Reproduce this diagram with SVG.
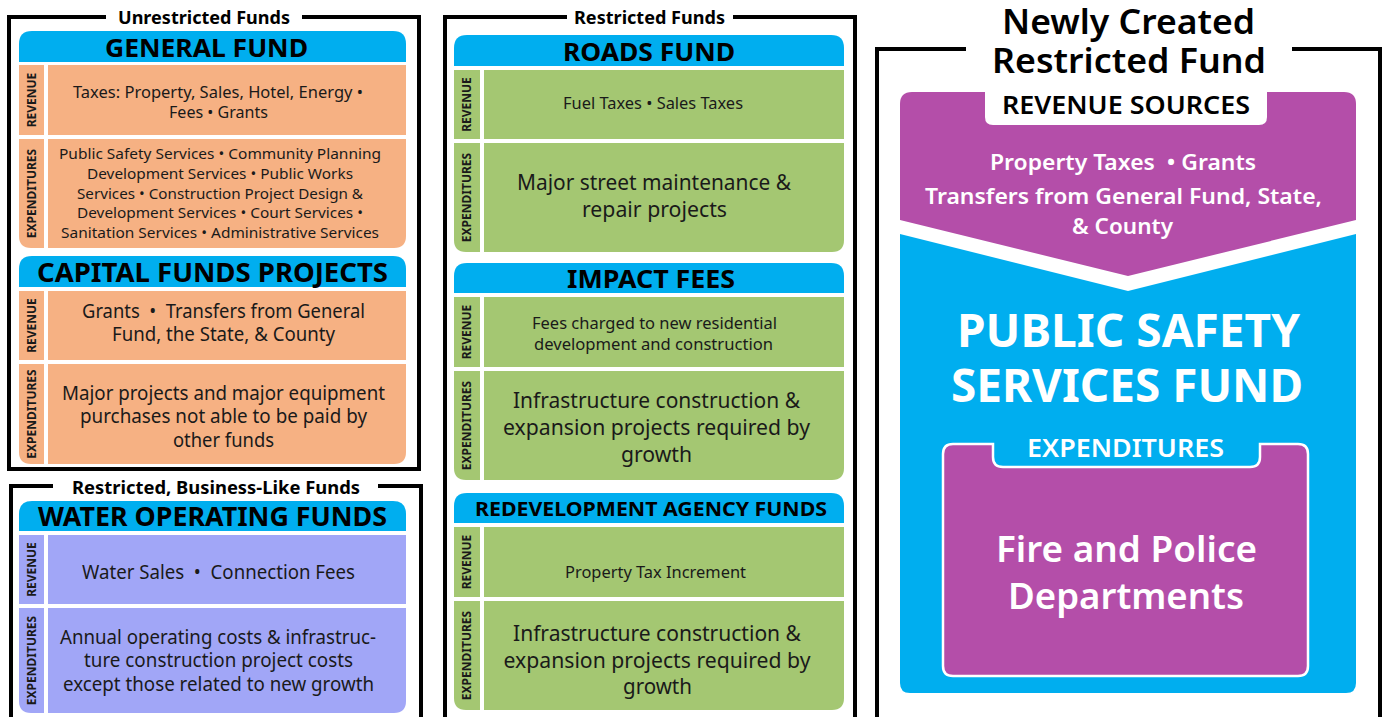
<svg xmlns="http://www.w3.org/2000/svg" width="1388" height="717" viewBox="0 0 1388 717">
<style>
text{font-family:"Noto Sans","Open Sans","DejaVu Sans",sans-serif;fill:#1a1a1a}
.frame{fill:none;stroke:#000;stroke-width:4}
.ft{font-size:17px;font-weight:700;text-anchor:middle;fill:#000}
.hdr{fill:#00aeef}
.or{fill:#f6b183}
.gr{fill:#a4c772}
.pu{fill:#a1a6f7}
.h{font-weight:700;text-anchor:middle;fill:#000}
.side{font-size:12px;font-weight:700;text-anchor:middle}
.b{text-anchor:middle}
.w{fill:#fff;text-anchor:middle}
</style>
<g id="frames">
<path class="frame" d="M106,17 H9 V469 H419 V17 H302"/>
<path class="frame" d="M53,486 H11 V722 M421,722 V486 H378"/>
<path class="frame" d="M567,17 H445 V722 M855,722 V17 H733"/>
<path class="frame" d="M966,49 H877 V722 M1380,722 V49 H1292"/>
<text class="ft" x="204" y="23.5" textLength="172" lengthAdjust="spacingAndGlyphs">Unrestricted Funds</text>
<text class="ft" x="649.5" y="24" textLength="151" lengthAdjust="spacingAndGlyphs">Restricted Funds</text>
<text class="ft" x="216" y="494" textLength="288" lengthAdjust="spacingAndGlyphs">Restricted, Business-Like Funds</text>
<text class="h" x="1128.5" y="33.5" style="font-size:35px;font-weight:600" textLength="253" lengthAdjust="spacingAndGlyphs">Newly Created</text>
<text class="h" x="1129" y="73.3" style="font-size:35px;font-weight:600" textLength="274" lengthAdjust="spacingAndGlyphs">Restricted Fund</text>
</g>
<g id="general-fund">
<path class="hdr" d="M19,62 V44 Q19,31 32,31 H393 Q406,31 406,44 V62 Z"/>
<rect class="or" x="19" y="65" width="25" height="70"/>
<rect class="or" x="48" y="65" width="358" height="70"/>
<path class="or" d="M19,139 H44 V248 H31 Q19,248 19,236 Z"/>
<path class="or" d="M48,139 H406 V236 Q406,248 394,248 H48 Z"/>
<text class="h" x="206.5" y="56.5" font-size="25" textLength="203" lengthAdjust="spacingAndGlyphs">GENERAL FUND</text>
<text class="side" transform="translate(32,100) rotate(-90)" dy="4.3">REVENUE</text>
<text class="side" transform="translate(32,193.5) rotate(-90)" dy="4.3">EXPENDITURES</text>
<text class="b" font-size="15.5" x="218" y="98.3" textLength="290" lengthAdjust="spacingAndGlyphs">Taxes: Property, Sales, Hotel, Energy •</text>
<text class="b" font-size="15.5" x="218.5" y="118.3" textLength="99" lengthAdjust="spacingAndGlyphs">Fees • Grants</text>
<text class="b" font-size="15" x="220" y="159.3" textLength="322" lengthAdjust="spacingAndGlyphs">Public Safety Services • Community Planning</text>
<text class="b" font-size="15" x="220" y="179" textLength="266" lengthAdjust="spacingAndGlyphs">Development Services • Public Works</text>
<text class="b" font-size="15" x="220" y="199" textLength="286" lengthAdjust="spacingAndGlyphs">Services • Construction Project Design &amp;</text>
<text class="b" font-size="15" x="220" y="218.3" textLength="286" lengthAdjust="spacingAndGlyphs">Development Services • Court Services •</text>
<text class="b" font-size="15" x="220" y="237.7" textLength="318" lengthAdjust="spacingAndGlyphs">Sanitation Services • Administrative Services</text>
</g>
<g id="capital-funds-projects">
<path class="hdr" d="M19,287 V269 Q19,256 32,256 H393 Q406,256 406,269 V287 Z"/>
<rect class="or" x="19" y="291" width="25" height="69"/>
<rect class="or" x="48" y="291" width="358" height="69"/>
<path class="or" d="M19,364 H44 V464 H31 Q19,464 19,452 Z"/>
<path class="or" d="M48,364 H406 V452 Q406,464 394,464 H48 Z"/>
<text class="h" x="212.5" y="281.7" font-size="26" textLength="351" lengthAdjust="spacingAndGlyphs">CAPITAL FUNDS PROJECTS</text>
<text class="side" transform="translate(32,325.5) rotate(-90)" dy="4.3">REVENUE</text>
<text class="side" transform="translate(32,414) rotate(-90)" dy="4.3">EXPENDITURES</text>
<text class="b" font-size="19" x="223.5" y="317.7" xml:space="preserve" textLength="283" lengthAdjust="spacingAndGlyphs">Grants  •  Transfers from General</text>
<text class="b" font-size="19" x="223.5" y="340.7" textLength="223" lengthAdjust="spacingAndGlyphs">Fund, the State, &amp; County</text>
<text class="b" font-size="19" x="223.5" y="400" textLength="323" lengthAdjust="spacingAndGlyphs">Major projects and major equipment</text>
<text class="b" font-size="19" x="223.5" y="423.3" textLength="287" lengthAdjust="spacingAndGlyphs">purchases not able to be paid by</text>
<text class="b" font-size="19" x="223.5" y="446.7" textLength="101" lengthAdjust="spacingAndGlyphs">other funds</text>
</g>
<g id="water-operating-funds">
<path class="hdr" d="M19,531 V514 Q19,501 32,501 H393 Q406,501 406,514 V531 Z"/>
<rect class="pu" x="19" y="535" width="25" height="69"/>
<rect class="pu" x="48" y="535" width="358" height="69"/>
<path class="pu" d="M19,608 H44 V713 H31 Q19,713 19,701 Z"/>
<path class="pu" d="M48,608 H406 V701 Q406,713 394,713 H48 Z"/>
<text class="h" x="212.5" y="526" font-size="26" textLength="349" lengthAdjust="spacingAndGlyphs">WATER OPERATING FUNDS</text>
<text class="side" transform="translate(32,569.5) rotate(-90)" dy="4.3">REVENUE</text>
<text class="side" transform="translate(32,660.5) rotate(-90)" dy="4.3">EXPENDITURES</text>
<text class="b" font-size="19" x="218.5" y="579.3" xml:space="preserve" textLength="273" lengthAdjust="spacingAndGlyphs">Water Sales  •  Connection Fees</text>
<text class="b" font-size="19" x="218" y="644" textLength="316" lengthAdjust="spacingAndGlyphs">Annual operating costs &amp; infrastruc-</text>
<text class="b" font-size="19" x="218.5" y="666.7" textLength="269" lengthAdjust="spacingAndGlyphs">ture construction project costs</text>
<text class="b" font-size="19" x="218.5" y="690.7" textLength="311" lengthAdjust="spacingAndGlyphs">except those related to new growth</text>
</g>
<g id="roads-fund">
<path class="hdr" d="M454,66 V48 Q454,35 467,35 H831 Q844,35 844,48 V66 Z"/>
<rect class="gr" x="454" y="70" width="26" height="69"/>
<rect class="gr" x="484" y="70" width="360" height="69"/>
<path class="gr" d="M454,143 H480 V252 H466 Q454,252 454,240 Z"/>
<path class="gr" d="M484,143 H844 V240 Q844,252 832,252 H484 Z"/>
<text class="h" x="649" y="61" font-size="25" textLength="172" lengthAdjust="spacingAndGlyphs">ROADS FUND</text>
<text class="side" transform="translate(467,104.5) rotate(-90)" dy="4.3">REVENUE</text>
<text class="side" transform="translate(467,197.5) rotate(-90)" dy="4.3">EXPENDITURES</text>
<text class="b" font-size="15.5" x="653" y="109.3" textLength="180" lengthAdjust="spacingAndGlyphs">Fuel Taxes • Sales Taxes</text>
<text class="b" font-size="21" x="654" y="190" textLength="274" lengthAdjust="spacingAndGlyphs">Major street maintenance &amp;</text>
<text class="b" font-size="21" x="654.5" y="216.7" textLength="145" lengthAdjust="spacingAndGlyphs">repair projects</text>
</g>
<g id="impact-fees">
<path class="hdr" d="M454,293 V276 Q454,263 467,263 H831 Q844,263 844,276 V293 Z"/>
<rect class="gr" x="454" y="297" width="26" height="70"/>
<rect class="gr" x="484" y="297" width="360" height="70"/>
<path class="gr" d="M454,371 H480 V480 H466 Q454,480 454,468 Z"/>
<path class="gr" d="M484,371 H844 V468 Q844,480 832,480 H484 Z"/>
<text class="h" x="651" y="287.7" font-size="25" textLength="168" lengthAdjust="spacingAndGlyphs">IMPACT FEES</text>
<text class="side" transform="translate(467,332) rotate(-90)" dy="4.3">REVENUE</text>
<text class="side" transform="translate(467,425.5) rotate(-90)" dy="4.3">EXPENDITURES</text>
<text class="b" font-size="15.5" x="654.5" y="329.3" textLength="245" lengthAdjust="spacingAndGlyphs">Fees charged to new residential</text>
<text class="b" font-size="15.5" x="653.5" y="350" textLength="239" lengthAdjust="spacingAndGlyphs">development and construction</text>
<text class="b" font-size="21" x="656.5" y="407.7" textLength="287" lengthAdjust="spacingAndGlyphs">Infrastructure construction &amp;</text>
<text class="b" font-size="21" x="656.5" y="435" textLength="307" lengthAdjust="spacingAndGlyphs">expansion projects required by</text>
<text class="b" font-size="21" x="656.5" y="461.7" textLength="71" lengthAdjust="spacingAndGlyphs">growth</text>
</g>
<g id="redevelopment-agency-funds">
<path class="hdr" d="M454,523 V506 Q454,493 467,493 H831 Q844,493 844,506 V523 Z"/>
<rect class="gr" x="454" y="527" width="26" height="70"/>
<rect class="gr" x="484" y="527" width="360" height="70"/>
<path class="gr" d="M454,601 H480 V710 H466 Q454,710 454,698 Z"/>
<path class="gr" d="M484,601 H844 V698 Q844,710 832,710 H484 Z"/>
<text class="h" x="651" y="516" font-size="20" textLength="352" lengthAdjust="spacingAndGlyphs">REDEVELOPMENT AGENCY FUNDS</text>
<text class="side" transform="translate(467,562) rotate(-90)" dy="4.3">REVENUE</text>
<text class="side" transform="translate(467,655.5) rotate(-90)" dy="4.3">EXPENDITURES</text>
<text class="b" font-size="15.5" x="655.5" y="578.3" textLength="181" lengthAdjust="spacingAndGlyphs">Property Tax Increment</text>
<text class="b" font-size="21" x="657" y="640.7" textLength="288" lengthAdjust="spacingAndGlyphs">Infrastructure construction &amp;</text>
<text class="b" font-size="21" x="657" y="667.7" textLength="307" lengthAdjust="spacingAndGlyphs">expansion projects required by</text>
<text class="b" font-size="21" x="657.5" y="694" textLength="69" lengthAdjust="spacingAndGlyphs">growth</text>
</g>
<g id="public-safety-services-fund">
<path fill="#b44ea9" d="M900,220 V104 Q900,92 912,92 H1344 Q1356,92 1356,104 V220 L1128,276 Z"/>
<path fill="#fff" d="M985,90 H1267 V117 Q1267,125 1259,125 H993 Q985,125 985,117 Z"/>
<path fill="#00aeef" d="M900,234 L1128,291 L1356,234 V683 Q1356,693 1346,693 H910 Q900,693 900,683 Z"/>
<path fill="#b44ea9" stroke="#fff" stroke-width="2.5" d="M953,444 H993 V457 Q993,467 1003,467 H1250 Q1260,467 1260,457 V444 H1298 Q1308,444 1308,454 V666 Q1308,676 1298,676 H953 Q943,676 943,666 V454 Q943,444 953,444 Z"/>
<text class="h" x="1126" y="114.3" style="font-size:25px;font-weight:600" textLength="248" lengthAdjust="spacingAndGlyphs">REVENUE SOURCES</text>
<text class="w" x="1123" y="170" style="font-size:22px;font-weight:600" xml:space="preserve" textLength="266" lengthAdjust="spacingAndGlyphs">Property Taxes  • Grants</text>
<text class="w" x="1123.5" y="204.3" style="font-size:22px;font-weight:600" textLength="397" lengthAdjust="spacingAndGlyphs">Transfers from General Fund, State,</text>
<text class="w" x="1122.5" y="234.3" style="font-size:22px;font-weight:600" textLength="101" lengthAdjust="spacingAndGlyphs">&amp; County</text>
<text class="w" x="1128.5" y="346.7" style="font-size:47px;font-weight:700" textLength="343" lengthAdjust="spacingAndGlyphs">PUBLIC SAFETY</text>
<text class="w" x="1127" y="401.7" style="font-size:47px;font-weight:700" textLength="352" lengthAdjust="spacingAndGlyphs">SERVICES FUND</text>
<text class="w" x="1125.5" y="456.7" style="font-size:25px;font-weight:600" textLength="197" lengthAdjust="spacingAndGlyphs">EXPENDITURES</text>
<text class="w" x="1126.5" y="561.7" style="font-size:36px;font-weight:600" textLength="261" lengthAdjust="spacingAndGlyphs">Fire and Police</text>
<text class="w" x="1126" y="609.3" style="font-size:36px;font-weight:600" textLength="236" lengthAdjust="spacingAndGlyphs">Departments</text>
</g>
</svg>
